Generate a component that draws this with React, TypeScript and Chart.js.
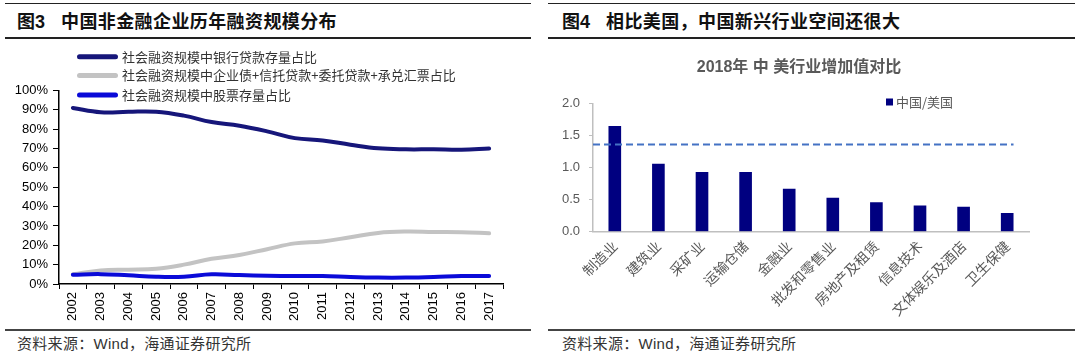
import React, { useEffect, useRef } from 'react';
import { Chart, registerables } from 'chart.js';

Chart.register(...registerables);

// ---------- Figure 3 data ----------
const years = ['2002', '2003', '2004', '2005', '2006', '2007', '2008', '2009', '2010', '2011', '2012', '2013', '2014', '2015', '2016', '2017'];
const bankLoanShare = [91, 88.8, 89, 89, 87, 83.7, 81.8, 78.9, 75.4, 74.2, 72, 70.1, 69.6, 69.6, 69.4, 70];
const otherFinancingShare = [5, 7, 7.4, 7.9, 10, 13, 15, 18, 21, 22, 24.2, 26.4, 27.1, 26.9, 26.8, 26.2];
const stockShare = [4.8, 5.1, 4.5, 3.8, 3.8, 5, 4.6, 4.3, 4.1, 4.1, 3.6, 3.3, 3.3, 3.6, 4.1, 4.1];
const lineSeriesNames = [
  '社会融资规模中银行贷款存量占比',
  '社会融资规模中企业债+信托贷款+委托贷款+承兑汇票占比',
  '社会融资规模中股票存量占比',
];
const percentTicks = [0, 10, 20, 30, 40, 50, 60, 70, 80, 90, 100];

// ---------- Figure 4 data ----------
const industries = ['制造业', '建筑业', '采矿业', '运输仓储', '金融业', '批发和零售业', '房地产及租赁', '信息技术', '文体娱乐及酒店', '卫生保健'];
const chinaUsRatio = [1.65, 1.06, 0.93, 0.93, 0.67, 0.53, 0.46, 0.41, 0.39, 0.29];
const referenceLevel = 1.36;
const barSeriesName = '中国/美国';
const barChartTitle = '2018年 中 美行业增加值对比';
const ratioTicks = [0, 0.5, 1.0, 1.5, 2.0];

const panelTitles = ['图3', '中国非金融企业历年融资规模分布', '图4', '相比美国，中国新兴行业空间还很大'];
const sourceText = '资料来源：Wind，海通证券研究所';

const CJK = '"Noto Sans CJK SC"';
const LAT = '"Liberation Sans", Arial';

const leftLegendPlugin = {
  id: 'leftLegend',
  afterDraw(chart: any) {
    const ctx = chart.ctx;
    const rows = [16.7, 35.5, 55];
    ctx.save();
    chart.data.datasets.forEach((ds: any, i: number) => {
      const y = rows[i];
      ctx.strokeStyle = ds.borderColor;
      ctx.lineWidth = 5;
      ctx.lineCap = 'round';
      ctx.beginPath();
      ctx.moveTo(79.5, y);
      ctx.lineTo(115.5, y);
      ctx.stroke();
      ctx.fillStyle = '#333';
      ctx.font = `13px ${CJK}`;
      ctx.textBaseline = 'middle';
      ctx.textAlign = 'left';
      ctx.fillText(ds.label, 122, y);
    });
    ctx.restore();
  },
};

const rightOverlayPlugin = {
  id: 'rightOverlay',
  afterDatasetsDraw(chart: any) {
    const { ctx, chartArea, scales } = chart;
    const y = scales.y.getPixelForValue(referenceLevel);
    const meta = chart.getDatasetMeta(0);
    const last = meta.data[meta.data.length - 1];
    const xEnd = last.x + last.width / 2;
    ctx.save();
    ctx.setLineDash([7, 4]);
    ctx.strokeStyle = '#4472c4';
    ctx.lineWidth = 2;
    ctx.beginPath();
    ctx.moveTo(chartArea.left, y);
    ctx.lineTo(xEnd, y);
    ctx.stroke();
    ctx.restore();
  },
  afterDraw(chart: any) {
    const ctx = chart.ctx;
    ctx.save();
    ctx.fillStyle = '#595959';
    ctx.font = `bold 16px ${LAT}, ${CJK}`;
    ctx.textAlign = 'center';
    ctx.textBaseline = 'middle';
    ctx.fillText(barChartTitle, 259, 28);
    const ds = chart.data.datasets[0];
    ctx.fillStyle = ds.backgroundColor;
    ctx.fillRect(346, 58.5, 7, 7);
    ctx.fillStyle = '#595959';
    ctx.font = `13px ${CJK}`;
    ctx.textAlign = 'left';
    ctx.fillText(ds.label, 356, 62);
    ctx.restore();
  },
};

function LineChart() {
  const ref = useRef<HTMLCanvasElement>(null);
  useEffect(() => {
    const chart = new Chart(ref.current as HTMLCanvasElement, {
      type: 'line',
      data: {
        labels: years,
        datasets: [
          { label: lineSeriesNames[0], data: bankLoanShare, borderColor: '#16167a', borderWidth: 4, pointRadius: 0, tension: 0.4, borderCapStyle: 'round', order: 2 },
          { label: lineSeriesNames[1], data: otherFinancingShare, borderColor: '#c3c3c3', borderWidth: 4, pointRadius: 0, tension: 0.4, borderCapStyle: 'round', order: 1 },
          { label: lineSeriesNames[2], data: stockShare, borderColor: '#0a0ad8', borderWidth: 4, pointRadius: 0, tension: 0.4, borderCapStyle: 'round', order: 0 },
        ],
      },
      options: {
        animation: false,
        responsive: false,
        maintainAspectRatio: false,
        layout: { padding: { top: 50.5, right: 37, left: 0, bottom: 4 } },
        plugins: { legend: { display: false }, tooltip: { enabled: false } },
        scales: {
          x: {
            type: 'category',
            offset: true,
            grid: { display: true, offset: true, drawOnChartArea: false, drawTicks: true, tickLength: 5, color: '#000', lineWidth: 1 },
            border: { display: true, color: '#000', width: 1.5 },
            ticks: { color: '#000', font: { family: LAT, size: 13 }, minRotation: 90, maxRotation: 90, autoSkip: false, padding: 3 },
            afterFit: (s: any) => { s.height = 42; },
          },
          y: {
            min: 0,
            max: 100,
            afterBuildTicks: (s: any) => { s.ticks = percentTicks.map((v) => ({ value: v })); },
            ticks: { callback: (v: any) => v + '%', color: '#000', font: { family: LAT, size: 13 }, padding: 5 },
            grid: { drawOnChartArea: false, tickLength: 6, color: '#000' },
            border: { color: '#000', width: 1.5 },
            afterFit: (s: any) => { s.width = 59; },
          },
        },
      },
      plugins: [leftLegendPlugin],
    } as any);
    return () => chart.destroy();
  }, []);
  return <canvas ref={ref} width={540} height={290} style={{ position: 'absolute', left: 0, top: 40, display: 'block' }} />;
}

function BarChart() {
  const ref = useRef<HTMLCanvasElement>(null);
  useEffect(() => {
    const chart = new Chart(ref.current as HTMLCanvasElement, {
      type: 'bar',
      data: {
        labels: industries,
        datasets: [
          { label: barSeriesName, data: chinaUsRatio, backgroundColor: '#000080', barPercentage: 0.29, categoryPercentage: 1.0 },
        ],
      },
      options: {
        animation: false,
        responsive: false,
        maintainAspectRatio: false,
        layout: { padding: { top: 63.5, right: 51, left: 0, bottom: 0 } },
        plugins: { legend: { display: false }, tooltip: { enabled: false } },
        scales: {
          x: {
            offset: true,
            grid: { display: false, drawTicks: false },
            border: { display: true, color: '#bfbfbf', width: 1.5 },
            ticks: { color: '#595959', font: { family: CJK, size: 14 }, minRotation: 45, maxRotation: 45, autoSkip: false, padding: 6 },
            afterFit: (s: any) => { s.height = 98.3; },
          },
          y: {
            min: 0,
            max: 2,
            afterBuildTicks: (s: any) => { s.ticks = ratioTicks.map((v) => ({ value: v })); },
            ticks: { callback: (v: any) => Number(v).toFixed(1), color: '#595959', font: { family: LAT, size: 13 }, padding: 9 },
            grid: { drawOnChartArea: false, tickLength: 4, color: '#bfbfbf' },
            border: { color: '#bfbfbf', width: 1.5 },
            afterFit: (s: any) => { s.width = 53; },
          },
        },
      },
      plugins: [rightOverlayPlugin],
    } as any);
    return () => chart.destroy();
  }, []);
  return <canvas ref={ref} width={540} height={290} style={{ position: 'absolute', left: 540, top: 40, display: 'block' }} />;
}

function Rule({ left, top, width, h, color }: { left: number; top: number; width: number; h: number; color: string }) {
  return <div style={{ position: 'absolute', left, top, width, height: h, background: color }} />;
}

function Title({ left, fig, text }: { left: number; fig: string; text: string }) {
  return (
    <div style={{ position: 'absolute', left, top: 11, lineHeight: '22px', fontSize: 18, fontWeight: 'bold', color: '#111', fontFamily: `${LAT}, ${CJK}`, whiteSpace: 'nowrap' }}>
      <span style={{ marginRight: 16 }}>{fig}</span>
      <span style={{ letterSpacing: 0.4 }}>{text}</span>
    </div>
  );
}

function Source({ left }: { left: number }) {
  return (
    <div style={{ position: 'absolute', left, top: 334, lineHeight: '20px', fontSize: 15, color: '#333', fontFamily: `${LAT}, ${CJK}`, whiteSpace: 'nowrap', letterSpacing: 0.3 }}>
      {sourceText}
    </div>
  );
}

export default function App() {
  return (
    <div style={{ position: 'absolute', left: 0, top: 0, width: 1080, height: 356, background: '#fff', overflow: 'hidden' }}>
      <Rule left={5} top={3} width={526} h={1} color="#222" />
      <Rule left={548} top={3} width={527} h={1} color="#222" />
      <Title left={17} fig={panelTitles[0]} text={panelTitles[1]} />
      <Title left={562} fig={panelTitles[2]} text={panelTitles[3]} />
      <Rule left={5} top={37} width={526} h={2} color="#222" />
      <Rule left={548} top={37} width={527} h={2} color="#222" />
      <LineChart />
      <BarChart />
      <Rule left={5} top={329} width={526} h={2} color="#444" />
      <Rule left={548} top={329} width={527} h={2} color="#444" />
      <Source left={17} />
      <Source left={562} />
    </div>
  );
}
